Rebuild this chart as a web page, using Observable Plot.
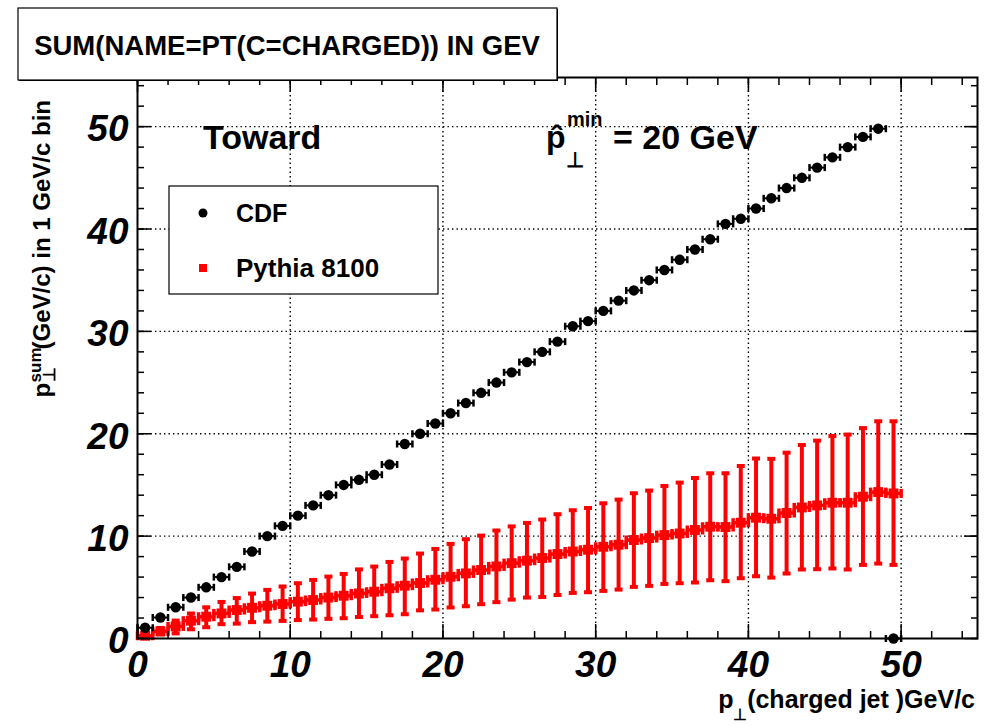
<!DOCTYPE html>
<html>
<head>
<meta charset="utf-8">
<script src="https://cdn.jsdelivr.net/npm/d3@7"></script>
<script src="https://cdn.jsdelivr.net/npm/@observablehq/plot@0.6"></script>
<style>
  body { margin: 0; background: #fff; }
  #wrap { position: relative; width: 987px; height: 728px; overflow: hidden; }
  #wrap svg { position: absolute; left: 0; top: 0; }
</style>
</head>
<body>
<div id="wrap"></div>
<script>
// ---- data ----
const binCenters = [0.5,1.5,2.5,3.5,4.5,5.5,6.5,7.5,8.5,9.5,10.5,11.5,12.5,13.5,14.5,15.5,16.5,17.5,18.5,19.5,
  20.5,21.5,22.5,23.5,24.5,25.5,26.5,27.5,28.5,29.5,30.5,31.5,32.5,33.5,34.5,35.5,36.5,37.5,38.5,39.5,
  40.5,41.5,42.5,43.5,44.5,45.5,46.5,47.5,48.5,49.5];
const cdfY = [1.05,2.05,3.05,4.0,5.0,6.0,7.0,8.5,10.0,11.0,12.0,13.0,14.0,15.0,15.5,16.0,17.0,19.0,20.0,21.0,
  22.0,23.0,24.0,25.0,26.0,27.0,28.0,29.0,30.5,31.0,32.0,33.0,34.0,35.0,36.0,37.0,38.0,39.0,40.5,41.0,
  42.0,43.0,44.0,45.0,46.0,47.0,48.0,49.0,49.8,0];
const pythiaY = [0.27,0.7,1.18,1.74,2.13,2.45,2.78,3.0,3.2,3.37,3.6,3.76,4.0,4.18,4.4,4.57,4.9,5.16,5.42,5.74,
  6.03,6.36,6.69,7.04,7.36,7.6,7.86,8.25,8.5,8.67,8.96,9.16,9.62,9.81,10.1,10.26,10.6,10.92,10.89,11.31,
  11.8,11.7,12.26,12.8,13.0,13.26,13.26,13.85,14.3,14.17];
const pythiaLow = [0.12,0.4,0.5,0.9,1.1,1.4,1.45,1.6,1.65,1.72,1.8,1.85,1.92,1.98,2.1,2.18,2.27,2.37,2.75,2.83,
  3.03,3.15,3.35,3.55,3.8,4.0,4.05,4.25,4.45,4.52,4.65,4.78,5.04,5.14,5.33,5.4,5.47,5.69,5.6,5.89,
  6.08,5.95,6.35,6.74,6.77,6.84,6.74,7.19,7.32,7.19];
const pythiaHigh = [0.42,1.03,1.75,2.44,3.05,3.57,3.95,4.39,4.75,5.08,5.4,5.72,6.05,6.31,6.75,7.03,7.48,7.81,8.3,8.75,
  9.24,9.7,10.05,10.55,10.95,11.29,11.62,12.14,12.53,12.75,13.21,13.57,14.19,14.45,14.9,15.23,15.68,16.14,16.14,16.85,
  17.58,17.55,18.15,18.9,19.33,19.78,19.92,20.55,21.22,21.22];
const xMajor = [0,10,20,30,40,50];
const yMajor = [0,10,20,30,40,50];
const xGrid = [10,20,30,40,50];
const yGrid = [10,20,30,40,50];
const xMinor = [0,2,4,6,8,10,12,14,16,18,20,22,24,26,28,30,32,34,36,38,40,42,44,46,48,50,52,54];
const yMinor = [0,2,4,6,8,10,12,14,16,18,20,22,24,26,28,30,32,34,36,38,40,42,44,46,48,50,52,54];
const halfBin = 0.5;

const cdf = binCenters.map((x, i) => ({x, y: cdfY[i]}));
const py = binCenters.map((x, i) => ({x, y: pythiaY[i], lo: pythiaLow[i], hi: pythiaHigh[i]}));

// rectangle-shaped symbols used for error-bar end caps
const rectSymbol = (w, h) => ({draw(ctx) { ctx.rect(-w / 2, -h / 2, w, h); }});

const FONT = "'Liberation Sans', Arial, Helvetica, sans-serif";
const tickLabelStyle = {fontSize: 37, fontWeight: "bold", fontStyle: "italic", fill: "black"};
const noText = () => "";

const chart = Plot.plot({
  width: 987, height: 728,
  marginLeft: 137, marginRight: 10, marginTop: 77, marginBottom: 90,
  style: {fontFamily: FONT, background: "transparent", overflow: "visible"},
  x: {domain: [0, 55]},
  y: {domain: [0, 54.8]},
  marks: [
    Plot.gridX(xGrid, {stroke: "black", strokeOpacity: 1, strokeWidth: 1.4, strokeDasharray: "1.4,3.1"}),
    Plot.gridY(yGrid, {stroke: "black", strokeOpacity: 1, strokeWidth: 1.4, strokeDasharray: "1.4,3.1"}),
    // Pythia: vertical error bars
    Plot.ruleX(py, {x: "x", y1: "lo", y2: "hi", stroke: "red", strokeWidth: 4}),
    Plot.dot(py, {x: "x", y: "lo", symbol: rectSymbol(8, 4), fill: "red", r: 2}),
    Plot.dot(py, {x: "x", y: "hi", symbol: rectSymbol(8, 4), fill: "red", r: 2}),
    // Pythia: horizontal (bin-width) bars with caps
    Plot.ruleY(py, {y: "y", x1: d => d.x - halfBin, x2: d => d.x + halfBin, stroke: "red", strokeWidth: 3.5}),
    Plot.dot(py, {x: d => d.x - halfBin, y: "y", symbol: rectSymbol(3.5, 9), fill: "red", r: 2}),
    Plot.dot(py, {x: d => d.x + halfBin, y: "y", symbol: rectSymbol(3.5, 9), fill: "red", r: 2}),
    Plot.dot(py, {x: "x", y: "y", symbol: "square", r: 5.6, fill: "red", stroke: "none"}),
    // CDF
    Plot.ruleY(cdf, {y: "y", x1: d => d.x - halfBin, x2: d => d.x + halfBin, stroke: "black", strokeWidth: 2}),
    Plot.dot(cdf, {x: d => d.x - halfBin, y: "y", symbol: rectSymbol(2.5, 7), fill: "black", r: 2}),
    Plot.dot(cdf, {x: d => d.x + halfBin, y: "y", symbol: rectSymbol(2.5, 7), fill: "black", r: 2}),
    Plot.dot(cdf, {x: "x", y: "y", r: 5.2, fill: "black", stroke: "none"}),
    // frame & axes (ticks inside)
    Plot.frame({stroke: "black", strokeWidth: 2}),
    Plot.axisX(xMinor, {anchor: "bottom", tickSize: -7, strokeWidth: 1.5, tickFormat: noText, label: null}),
    Plot.axisX(xMajor, {anchor: "bottom", tickSize: -14, strokeWidth: 1.5, tickFormat: noText, label: null}),
    Plot.axisX(xMinor, {anchor: "top", tickSize: -7, strokeWidth: 1.5, tickFormat: noText, label: null}),
    Plot.axisX(xMajor, {anchor: "top", tickSize: -14, strokeWidth: 1.5, tickFormat: noText, label: null}),
    Plot.axisY(yMinor, {anchor: "left", tickSize: -7, strokeWidth: 1.5, tickFormat: noText, label: null}),
    Plot.axisY(yMajor, {anchor: "left", tickSize: -14, strokeWidth: 1.5, tickFormat: noText, label: null}),
    Plot.axisY(yMinor, {anchor: "right", tickSize: -7, strokeWidth: 1.5, tickFormat: noText, label: null}),
    Plot.axisY(yMajor, {anchor: "right", tickSize: -14, strokeWidth: 1.5, tickFormat: noText, label: null}),
    Plot.axisX(xMajor, {anchor: "bottom", tickSize: 0, tickPadding: 12, label: null, ...tickLabelStyle}),
    Plot.axisY(yMajor, {anchor: "left", tickSize: 0, tickPadding: 9, dy: 3, label: null, ...tickLabelStyle})
  ]
});
const wrap = document.getElementById("wrap");
wrap.appendChild(chart);

// ---- overlay: title, legend, annotations, axis titles ----
const ov = d3.select(wrap).append("svg")
  .attr("width", 987).attr("height", 728)
  .style("font-family", FONT).style("font-weight", "bold");

// title box
ov.append("rect").attr("x", 19).attr("y", 9).attr("width", 539).attr("height", 72).attr("fill", "black");
ov.append("rect").attr("x", 18).attr("y", 8).attr("width", 539).attr("height", 72)
  .attr("fill", "white").attr("stroke", "black").attr("stroke-width", 1.2);
ov.append("text").attr("x", 287).attr("y", 55).attr("text-anchor", "middle")
  .attr("font-size", 27.5).text("SUM(NAME=PT(C=CHARGED)) IN GEV");

// legend
ov.append("rect").attr("x", 169).attr("y", 186).attr("width", 269).attr("height", 108)
  .attr("fill", "white").attr("stroke", "black").attr("stroke-width", 1.2);
ov.append("circle").attr("cx", 203).attr("cy", 213).attr("r", 4.5).attr("fill", "black");
ov.append("text").attr("x", 236).attr("y", 222).attr("font-size", 25).text("CDF");
ov.append("rect").attr("x", 199).attr("y", 264).attr("width", 8).attr("height", 8).attr("fill", "red");
ov.append("text").attr("x", 236).attr("y", 277).attr("font-size", 26).text("Pythia 8100");

// annotations
ov.append("text").attr("x", 203).attr("y", 149).attr("font-size", 34).text("Toward");
ov.append("text").attr("x", 546).attr("y", 148).attr("font-size", 32).text("p\u0302");
ov.append("text").attr("x", 567).attr("y", 126).attr("font-size", 20).text("min");
ov.append("text").attr("x", 566).attr("y", 167).attr("font-size", 21).text("\u22A5");
ov.append("text").attr("x", 613).attr("y", 149).attr("font-size", 34).text("= 20 GeV");

// x-axis title
const xt = ov.append("text").attr("x", 975).attr("y", 708).attr("text-anchor", "end")
  .attr("font-size", 25).text("(charged jet )GeV/c");
const xtLen = xt.node().getComputedTextLength();
ov.append("text").attr("x", 975 - xtLen - 29).attr("y", 708).attr("font-size", 25).text("p");
ov.append("text").attr("x", 975 - xtLen - 14).attr("y", 720).attr("font-size", 16).text("\u22A5");

// y-axis title (rotated)
const yg = ov.append("g").attr("transform", "translate(50,100) rotate(-90)");
const yt = yg.append("text").attr("x", 0).attr("y", 0).attr("text-anchor", "end")
  .attr("font-size", 24).text("(GeV/c) in 1 GeV/c bin");
const ytLen = yt.node().getComputedTextLength();
yg.append("text").attr("x", -ytLen - 33).attr("y", -9).attr("font-size", 17).text("sum");
yg.append("text").attr("x", -ytLen - 33).attr("y", 5).attr("font-size", 17).text("\u22A5");
yg.append("text").attr("x", -ytLen - 48).attr("y", 0).attr("font-size", 24).text("p");
</script>
</body>
</html>
